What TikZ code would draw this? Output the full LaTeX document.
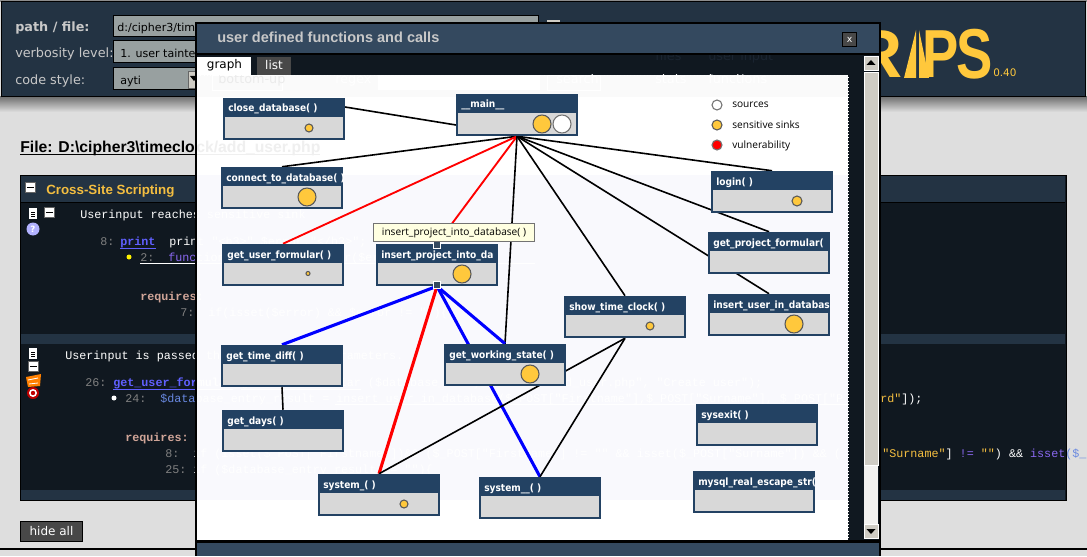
\documentclass[tikz,border=0pt]{standalone}
\usepackage{fontspec}
\setmainfont{DejaVu Sans}
\newfontfamily\uifont{DejaVu Sans}
\newfontfamily\ttlfont{Liberation Sans}
\newfontfamily\fnfont{DejaVu Sans Condensed}
\newfontfamily\lblfont{Open Sans}
\newfontfamily\codefont{Liberation Mono}
\usetikzlibrary{calc}
\definecolor{hdr}{HTML}{233343}
\definecolor{page}{HTML}{DEDEDE}
\definecolor{panel}{HTML}{101820}
\definecolor{field}{HTML}{98A0A0}
\definecolor{mbar}{HTML}{34495F}
\definecolor{fnblue}{HTML}{234263}
\definecolor{fnbody}{HTML}{D8D8D8}
\definecolor{sink}{HTML}{FFC83C}
\definecolor{btn}{HTML}{484848}
\definecolor{uigray}{HTML}{C8C8C8}
\definecolor{cgray}{HTML}{808080}
\definecolor{cblue}{HTML}{6060FF}
\definecolor{cpurple}{HTML}{8A68F0}
\definecolor{cvar}{HTML}{6888E0}
\definecolor{cstr}{HTML}{F4BE40}
\definecolor{creq}{HTML}{D0A598}
\definecolor{scroll}{HTML}{CFCCC4}
\definecolor{tipbg}{HTML}{FFFFE1}
\definecolor{canvasA}{HTML}{FAFAFA}
\definecolor{canvasB}{HTML}{F9F9FD}
\definecolor{ghostdark}{HTML}{1A2430}
\definecolor{ghostfile}{HTML}{EFEFEF}
\pgfdeclarelayer{base}
\pgfdeclarelayer{edges}
\pgfsetlayers{base,edges,main}
\tikzset{
  x=0.75pt,y=-0.75pt,
  txt/.style={inner sep=0pt,anchor=base west},
  uitext/.style={txt,text=uigray,font=\uifont\fontsize{9.6}{11}\selectfont},
  fieldtext/.style={txt,text=black,font=\uifont\fontsize{8.3}{10}\selectfont},
  ghostui/.style={uitext,text=white},
  ctext/.style={txt,text=white,font=\codefont\fontsize{8.8}{11}\selectfont},
  cnum/.style={ctext,text=cgray},
  cbold/.style={ctext,font=\codefont\bfseries\fontsize{8.8}{11}\selectfont},
  fnbox/.style={rectangle,fill=fnblue,inner sep=0pt,minimum width=91.5pt,minimum height=31.5pt},
  fntitle/.style={txt,text=white,font=\fnfont\bfseries\fontsize{7.55}{9}\selectfont},
  sinkdot/.style={circle,fill=sink,draw=black!65,line width=0.8pt,inner sep=0pt},
  srcdot/.style={circle,fill=white,draw=black!55,line width=0.8pt,inner sep=0pt},
  vulndot/.style={circle,fill=red,draw=black!55,line width=0.8pt,inner sep=0pt},
  legend/.style={txt,text=black,font=\lblfont\fontsize{7.6}{9}\selectfont},
  call/.style={black,line width=1.2pt},
  redthin/.style={red,line width=1.4pt},
  redthick/.style={red,line width=2.3pt},
  bluethick/.style={blue,line width=2.3pt},
  handle/.style={rectangle,fill=mbar,draw=white,line width=0.6pt,minimum size=5.4pt,inner sep=0pt},
  btnbox/.style={fill=btn,draw=black,line width=0.75pt},
  minusbox/.style={rectangle,fill=white,draw=black!60,line width=0.6pt,minimum width=7.5pt,minimum height=7.5pt,inner sep=0pt},
}
\newcommand{\fn}[4]{%
  \node[fnbox] (#1) at (#2+61,#3+21) {};
  \fill[fnbody] (#2+2,#3+19) rectangle (#2+120,#3+40);
  \begin{scope}
    \clip (#2,#3) rectangle (#2+122,#3+42);
    \node[fntitle] (#1-title) at (#2+5,#3+14) {#4};
  \end{scope}}
\newcommand{\fndot}[5]{\node[#1,minimum size=#5*0.75pt] (#2) at (#3,#4) {};}
\newcommand{\docicon}[2]{%
  \fill[white] (#1-4,#2-5) rectangle (#1+4,#2+6);
  \draw[black,line width=0.5pt] (#1-2,#2-1) -- (#1+2,#2-1) (#1-2,#2+1) -- (#1+2,#2+1) (#1-2,#2+3) -- (#1+2,#2+3);}
\begin{document}
\begin{tikzpicture}
\useasboundingbox (0,0) rectangle (1087,556);
\begin{pgfonlayer}{base}
% page
\fill[page] (0,0) rectangle (1087,556);
\fill[black!45] (0,0) rectangle (1087,2);
\shade[top color=black!55,bottom color=page] (0,97) rectangle (1087,112);
\fill[hdr,draw=black,line width=0.75pt] (1,2) rectangle (1085,97);
\fill[black] (0,548) rectangle (1087,550);
% header form
\node[uitext,font=\uifont\bfseries\fontsize{9.6}{11}\selectfont] (lpath) at (15,32) {path / file:};
\node[uitext] (lverb) at (15,58) {verbosity level:};
\node[uitext] (lcode) at (15,85) {code style:};
\fill[field,draw=black,line width=0.75pt] (113,16) rectangle (538,37);
\fill[field,draw=black,line width=0.75pt] (113,41) rectangle (538,63);
\fill[field,draw=black,line width=0.75pt] (113,68) rectangle (203,90);
\node[fieldtext] (fpath) at (117,32) {d:/cipher3/time};
\node[fieldtext] (fverb) at (120,58) {1. user tainted};
\node[fieldtext] (fcode) at (120,85) {ayti};
\fill[scroll,draw=black!60,line width=0.4pt] (188,71) rectangle (200,88);
\fill[black] (190,76) -- (198,76) -- (194,81) -- cycle;
\fill[scroll] (547,20) rectangle (560,22);
% logo
\node[txt,text=sink,font=\ttlfont\bfseries\fontsize{51}{51}\selectfont] (logoR) at (853,78) {R};
\fill[sink] (916,30) -- (916,78) -- (904,78) -- cycle;
\fill[sink] (919,30) -- (919,78) -- (929,78) -- cycle;
\node[txt,text=sink,font=\ttlfont\bfseries\fontsize{51}{51}\selectfont,xscale=0.8,transform shape] (logoP) at (922,78) {P};
\node[txt,text=sink,font=\ttlfont\bfseries\fontsize{53}{53}\selectfont,xscale=0.77,transform shape] (logoS) at (956,79) {S};
\node[txt,text=sink,font=\uifont\fontsize{7.8}{9}\selectfont] (version) at (993,77) {0.40};
% file line, left part
\node[txt,text=black,font=\ttlfont\bfseries\fontsize{11.8}{14}\selectfont] (fileline) at (20,152) {File: D:\textbackslash cipher3\textbackslash timeclo};
\draw[black,line width=0.75pt] (20,154.5) -- (195,154.5);
% hide all
\node[btnbox,rectangle,minimum width=47pt,minimum height=15pt,inner sep=0pt,text=white,font=\uifont\fontsize{9}{11}\selectfont] (hideall) at (51.5,531) {hide all};
% code panel
\fill[panel,draw=black,line width=0.75pt] (20,175) rectangle (1066,500);
\fill[hdr] (21,176) rectangle (1065,202);
\draw[black,line width=0.5pt] (21,202) -- (1065,202);
\fill[hdr] (21,334) rectangle (1065,344);
\fill[hdr] (21,490) rectangle (1065,500);
\node[minusbox] (m1) at (30.5,187.5) {};
\draw[black,line width=0.6pt] (27,187.5) -- (34,187.5);
\node[txt,text=cstr,font=\ttlfont\bfseries\fontsize{10}{12}\selectfont] (xss) at (46,194) {Cross-Site Scripting};
\docicon{33}{213}
\node[minusbox] (m2) at (49.5,212.5) {};
\draw[black,line width=0.6pt] (46,212.5) -- (53,212.5);
\fill[white!70!blue] (33,229) circle (6.5);
\node[text=white,inner sep=0pt,font=\uifont\bfseries\fontsize{6.5}{7}\selectfont] (help) at (33,229) {?};
\docicon{33}{353}
\node[minusbox] (m3) at (33.5,366.5) {};
\draw[black,line width=0.6pt] (30,366.5) -- (37,366.5);
\fill[orange] (26,377) -- (41,374) -- (40,386) -- (28,387) -- cycle;
\draw[white,line width=0.6pt] (28,380) -- (38,378) (29,384) -- (38,383);
\fill[red!75!black] (33,393) circle (6);
\fill[white] (33,393) circle (4);
\fill[red!75!black] (33,393) circle (2.2);
% modal window: dark strips
\fill[panel] (197,55) rectangle (863,75);
\node[ghostui,text=ghostdark] (gfiles) at (655,61) {files};
\node[ghostui,text=ghostdark] (guser) at (708,61) {user input};
\fill[panel] (848,75) rectangle (863,540);
% ghost words first, cut by the canvas top
\begin{scope}
\clip (197,75) rectangle (848,540);
\fill[canvasA] (197,75) rectangle (848,97);
\fill[white] (197,97) rectangle (848,175);
\fill[canvasB] (197,175) rectangle (848,500);
\fill[white] (197,500) rectangle (848,540);
\draw[white,line width=0.5pt] (212,75) rectangle (282,90);
\node[ghostui,text=black!8] (gbottom) at (218,84) {bottom-up};
\node[ghostui] (gregex) at (335,84) {regex};
\fill[white] (378,75) rectangle (540,90);
\draw[white,line width=0.5pt] (547,75) rectangle (600,90);
\node[ghostui] (gsearch) at (556,84) {search};
\node[ghostui] (gstats) at (655,84) {stats};
\node[ghostui] (gfunc) at (708,84) {functions};
\end{scope}
\draw[white,dotted,line width=0.5pt] (197,75) -- (848,75) -- (848,540);
\node[txt,text=ghostfile,font=\ttlfont\bfseries\fontsize{11.8}{14}\selectfont] (fileghost) at (196,152) {ck/add\_user.php};
\draw[ghostfile,line width=0.75pt] (197,154.5) -- (320,154.5);
% code lines
\node[ctext] (c1) at (80,218) {Userinput reaches sensitive sink};
\node[cnum] (n8) at (100,245) {8:};
\node[cbold,text=cblue] (cprint) at (120,245) {print};
\draw[cblue,line width=0.6pt] (120,248) -- (156,248);
\node[ctext] (c2) at (169,245) {print "<h3>".\$error."</h3>";};
\fill[yellow] (129,257) circle (2.5);
\node[cnum] (n2) at (140,261) {2:};
\node[ctext,text=cpurple] (c3a) at (168,261) {func};
\node[ctext] (c3b) at (196.2,261) {tion get\_user\_formular(\$error, \$title)\{};
\draw[white,line width=0.5pt] (140,263.5) -- (535,263.5);
\node[cbold,text=creq] (r1) at (140,300) {requires};
\node[cbold] (r1b) at (196.4,300) {:};
\node[cnum] (n7) at (180,316) {7:};
\node[ctext] (c4) at (208,316) {if(isset(\$error) \&\& \$error != "")\{};
\node[ctext] (c5) at (65,359) {Userinput is passed through function parameters.};
\node[cnum] (n26) at (85,386) {26:};
\node[cbold,text=cblue] (cget) at (113,386) {get\_user\_for};
\node[cbold] (cgetb) at (197.6,386) {mular};
\draw[cblue,line width=0.6pt] (113,389) -- (196,389);
\draw[white,line width=0.5pt] (197,389) -- (233,389);
\node[ctext] (c6) at (241,386) {get\_user\_formular (\$database\_entry\_result, "add\_user.php", "Create user");};
\draw[white,line width=0.5pt] (241,389) -- (361,389);
\fill[white] (114,398) circle (2.5);
\node[cnum] (n24) at (125,402) {24:};
\node[ctext,text=cvar] (c7a) at (160,402) {\$data};
\node[ctext] (c7b) at (195.3,402) {base\_entry\_result = insert\_user\_in\_database(\$\_POST["Firstname"],\$\_POST["Surname"], \$\_POST["P};
\node[ctext] (c7c) at (880,402) {\textcolor{cstr}{rd"}]);};
\draw[white,line width=0.5pt] (335,404.5) -- (848,404.5);
\node[cbold,text=creq] (r2) at (125,441) {requires:};
\node[cnum] (n8b) at (165,457) {8:};
\node[ctext] (c8a) at (193,457) {if (isset(\$\_POST["Firstname"])\&\& (\$\_POST["Firstname"] != "" \&\& isset(\$\_POST["Surname"]) \&\& (};
\node[ctext] (c8b) at (882,457) {\textcolor{cstr}{"Surname"}] \textcolor{cpurple}{!=} \textcolor{cstr}{""}) \&\& \textcolor{cpurple}{isset}\textcolor{cvar}{(\$\_P}};
\node[cnum] (n25) at (165,473) {25:};
\node[ctext] (c9) at (193,473) {if (\$database\_entry\_result != "")\{};
% modal frame
\fill[black] (195,22) rectangle (881,24);
\fill[black] (195,22) rectangle (197,556);
\fill[black] (879,22) rectangle (881,556);
\fill[mbar] (197,24) rectangle (879,53);
\fill[black] (197,53) rectangle (879,55);
\fill[black] (197,540) rectangle (879,543);
\fill[mbar] (197,543) rectangle (879,556);
\end{pgfonlayer}
\begin{pgfonlayer}{edges}
\coordinate (closeEnd) at (345,107);
\coordinate (mainEnd) at (456,125);
\end{pgfonlayer}
% function boxes
\fn{close}{223}{98}{close\_database( )}
\fn{connect}{221}{167}{connect\_to\_database( )}
\fn{guf}{222}{244}{get\_user\_formular( )}
\fn{insproj}{376}{244}{insert\_project\_into\_da}
\fn{mainf}{456}{94}{\_\_main\_\_}
\fn{login}{711}{171}{login( )}
\fn{gpf}{708}{232}{get\_project\_formular(}
\fn{insuser}{708}{294}{insert\_user\_in\_databas}
\fn{stc}{564}{296}{show\_time\_clock( )}
\fn{gws}{444}{344}{get\_working\_state( )}
\fn{gtd}{221}{345}{get\_time\_diff( )}
\fn{gdays}{222}{410}{get\_days( )}
\fn{sysa}{318}{474}{system\_( )}
\fn{sysb}{479}{477}{system\_\_( )}
\fn{sysexit}{696}{404}{sysexit( )}
\fn{mysql}{693}{471}{mysql\_real\_escape\_str(}
% connectors
\begin{pgfonlayer}{edges}
\draw[call] (closeEnd) -- (mainEnd);
\draw[call] (mainf.south) -- (connect.north);
\draw[redthin] (mainf.south) -- (guf.north);
\draw[redthin] (mainf.south) -- (insproj.north);
\draw[call] (mainf.south) -- (gws.north);
\draw[call] (mainf.south) -- (stc.north);
\draw[call] (mainf.south) -- (insuser.north);
\draw[call] (mainf.south) -- (gpf.north);
\draw[call] (mainf.south) -- (login.north);
\draw[bluethick] (insproj.south) -- (gtd.north);
\draw[redthick] (insproj.south) -- (sysa.north);
\draw[bluethick] (insproj.south) -- (gws.north);
\draw[bluethick] (insproj.south) -- (sysb.north);
\draw[call] (gtd.south) -- (gdays.north);
\draw[call] (stc.south) -- (sysa.north);
\draw[call] (stc.south) -- (sysb.north);
\end{pgfonlayer}
% circles
\fndot{sinkdot}{d1}{309}{128}{8}
\fndot{sinkdot}{d2}{307}{197}{18}
\fndot{sinkdot}{d3}{308}{273.5}{4}
\fndot{sinkdot}{d4}{462}{274}{18}
\fndot{sinkdot}{d5}{542}{124}{18}
\fndot{srcdot}{d6}{562}{124}{18}
\fndot{sinkdot}{d7}{797}{201}{10}
\fndot{sinkdot}{d8}{650}{326}{8}
\fndot{sinkdot}{d9}{530}{374}{18}
\fndot{sinkdot}{d10}{794}{324}{18}
\fndot{sinkdot}{d11}{404}{504}{8}
% legend
\fndot{srcdot}{l1}{717}{105}{10}
\fndot{sinkdot}{l2}{717}{125}{10}
\fndot{vulndot}{l3}{717}{145}{10}
\node[legend] (t1) at (732,108) {sources};
\node[legend] (t2) at (732,128) {sensitive sinks};
\node[legend] (t3) at (732,148) {vulnerability};
% handles and tooltip
\node[handle] (h1) at (437,245) {};
\node[handle] (h2) at (437,285) {};
\node[rectangle,fill=tipbg,draw=black!55,line width=0.9pt,minimum width=121pt,minimum height=13.5pt,inner sep=0pt,text=black,font=\lblfont\fontsize{7.6}{9}\selectfont] (tip) at (454,232.5) {insert\_project\_into\_database( )};
% modal chrome
\node[txt,text=uigray,font=\ttlfont\bfseries\fontsize{10.9}{12}\selectfont] (mtitle) at (217,43) {user defined functions and calls};
\node[btnbox,rectangle,minimum width=11pt,minimum height=11pt,inner sep=0pt,text=white,font=\uifont\fontsize{7}{8}\selectfont] (mclose) at (849.5,39.5) {x};
\fill[white] (197,57) rectangle (251,75);
\node[text=black,inner sep=0pt,font=\uifont\fontsize{9}{11}\selectfont] (tgraph) at (224.5,65.5) {graph};
\fill[btn] (257,57) rectangle (291,75);
\node[text=white,inner sep=0pt,font=\uifont\fontsize{9}{11}\selectfont] (tlist) at (274,65.5) {list};
\fill[panel] (863,55) rectangle (879,540);
\fill[scroll,draw=white,line width=0.4pt] (864,56) rectangle (878,70);
\fill[black] (871,60) -- (875.5,65) -- (866.5,65) -- cycle;
\fill[scroll,draw=white,line width=0.4pt] (864,72) rectangle (878,465);
\fill[white!75!scroll] (864,466) rectangle (878,524);
\fill[scroll,draw=white,line width=0.4pt] (864,524) rectangle (878,538);
\fill[black] (871,534) -- (875.5,529) -- (866.5,529) -- cycle;
\end{tikzpicture}
\end{document}
